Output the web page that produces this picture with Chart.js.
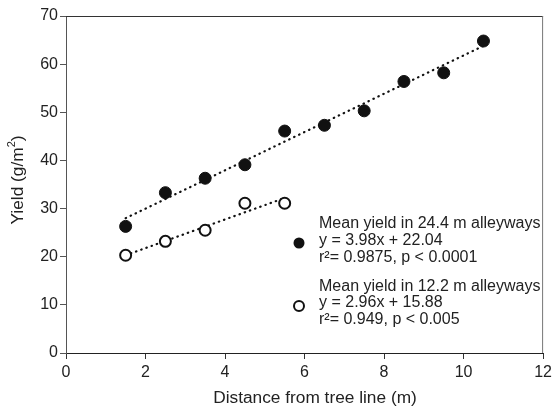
<!DOCTYPE html>
<html><head><meta charset="utf-8">
<script src="https://cdn.jsdelivr.net/npm/chart.js@4"></script>
<style>html,body{margin:0;padding:0;background:#fff}#wrap{width:556px;height:411px}</style>
</head><body><div id="wrap"><canvas id="c" width="556" height="411"></canvas></div>
<script>
// ---- data ----
const distance24 = [1.5, 2.5, 3.5, 4.5, 5.5, 6.5, 7.5, 8.5, 9.5, 10.5];
const yield24 = [26.3, 33.3, 36.3, 39.1, 46.1, 47.3, 50.3, 56.4, 58.2, 64.8];
const distance12 = [1.5, 2.5, 3.5, 4.5, 5.5];
const yield12 = [20.3, 23.2, 25.5, 31.1, 31.1];
const trend24X = [1.5, 10.5];
const trend24Y = [28.0, 63.8];
const trend12X = [1.5, 5.5];
const trend12Y = [20.3, 32.2];
const xTickValues = [0, 2, 4, 6, 8, 10, 12];
const yTickValues = [0, 10, 20, 30, 40, 50, 60, 70];
const legend24 = ["Mean yield in 24.4 m alleyways", "y = 3.98x + 22.04", "r\u00B2= 0.9875, p < 0.0001"];
const legend12 = ["Mean yield in 12.2 m alleyways", "y = 2.96x + 15.88", "r\u00B2= 0.949, p < 0.005"];
const xTitle = "Distance from tree line (m)";
const yTitleParts = ["Yield (g/m", "2", ")"];

const FONT = "'Liberation Sans', Arial, sans-serif";
const toPts = (xs, ys) => xs.map((x, i) => ({x: x, y: ys[i]}));

const framePlugin = {
  id: 'frame',
  afterDraw(chart) {
    const {ctx, chartArea: a} = chart;
    ctx.save();
    ctx.lineWidth = 1;
    ctx.strokeStyle = '#333';
    ctx.beginPath(); ctx.moveTo(a.left, a.top + 0.5); ctx.lineTo(a.right, a.top + 0.5); ctx.stroke();
    ctx.strokeStyle = '#777';
    ctx.beginPath(); ctx.moveTo(a.right - 0.5, a.top); ctx.lineTo(a.right - 0.5, a.bottom); ctx.stroke();
    // legend
    ctx.fillStyle = '#222';
    ctx.font = '16px ' + FONT;
    ctx.textBaseline = 'middle';
    ctx.textAlign = 'left';
    const lx = 319;
    const ys1 = [224, 241, 258], ys2 = [287, 303, 320];
    legend24.forEach((t, i) => ctx.fillText(t, lx, ys1[i]));
    legend12.forEach((t, i) => ctx.fillText(t, lx, ys2[i]));
    ctx.beginPath(); ctx.arc(299, 243, 5.5, 0, Math.PI * 2); ctx.fillStyle = '#111'; ctx.fill();
    ctx.beginPath(); ctx.arc(299, 306, 5, 0, Math.PI * 2); ctx.fillStyle = '#fff'; ctx.fill();
    ctx.lineWidth = 2; ctx.strokeStyle = '#111'; ctx.stroke();
    // x title
    ctx.fillStyle = '#222';
    ctx.font = '17.3px ' + FONT;
    ctx.textAlign = 'center';
    ctx.fillText(xTitle, 315, 398);
    // y title (rotated, with superscript)
    ctx.translate(18, 180);
    ctx.rotate(-Math.PI / 2);
    const big = '17.3px ' + FONT, small = '11px ' + FONT;
    ctx.font = big; const w0 = ctx.measureText(yTitleParts[0]).width, w2 = ctx.measureText(yTitleParts[2]).width;
    ctx.font = small; const w1 = ctx.measureText(yTitleParts[1]).width;
    let x = -(w0 + w1 + w2) / 2;
    ctx.textAlign = 'left';
    ctx.font = big; ctx.fillText(yTitleParts[0], x, 0); x += w0;
    ctx.font = small; ctx.fillText(yTitleParts[1], x, -6); x += w1;
    ctx.font = big; ctx.fillText(yTitleParts[2], x, 0);
    ctx.restore();
  }
};

new Chart(document.getElementById('c'), {
  type: 'scatter',
  data: {
    datasets: [
      {data: toPts(distance24, yield24), pointRadius: 6, pointBackgroundColor: '#111', pointBorderColor: '#111', pointBorderWidth: 1, showLine: false, order: 0},
      {data: toPts(distance12, yield12), pointRadius: 5.5, pointBackgroundColor: '#fff', pointBorderColor: '#111', pointBorderWidth: 2, showLine: false, order: 0},
      {data: toPts(trend24X, trend24Y), showLine: true, pointRadius: 0, borderColor: '#111', borderWidth: 2.2, borderDash: [0.5, 5], borderCapStyle: 'round', order: 1},
      {data: toPts(trend12X, trend12Y), showLine: true, pointRadius: 0, borderColor: '#111', borderWidth: 2.2, borderDash: [0.5, 5], borderCapStyle: 'round', order: 1}
    ]
  },
  options: {
    responsive: false,
    devicePixelRatio: 1,
    animation: false,
    layout: {padding: {top: 16, right: 10, left: 0, bottom: 0}},
    plugins: {legend: {display: false}, tooltip: {enabled: false}},
    scales: {
      x: {
        type: 'linear', min: 0, max: 12,
        afterBuildTicks: s => { s.ticks = xTickValues.map(v => ({value: v})); },
        afterFit: s => { s.height = 58; },
        ticks: {color: '#222', font: {family: FONT, size: 16}, padding: 4, maxRotation: 0},
        grid: {drawOnChartArea: false, drawTicks: true, tickLength: 6, color: '#333'},
        border: {display: true, color: '#222', width: 1},
        title: {display: false}
      },
      y: {
        type: 'linear', min: 0, max: 70,
        afterBuildTicks: s => { s.ticks = yTickValues.map(v => ({value: v})); },
        afterFit: s => { s.width = 66; },
        ticks: {color: '#222', font: {family: FONT, size: 16}, padding: 2},
        grid: {drawOnChartArea: false, drawTicks: true, tickLength: 6, color: '#555'},
        border: {display: true, color: '#555', width: 1},
        title: {display: false}
      }
    }
  },
  plugins: [framePlugin]
});
</script>
</body></html>
